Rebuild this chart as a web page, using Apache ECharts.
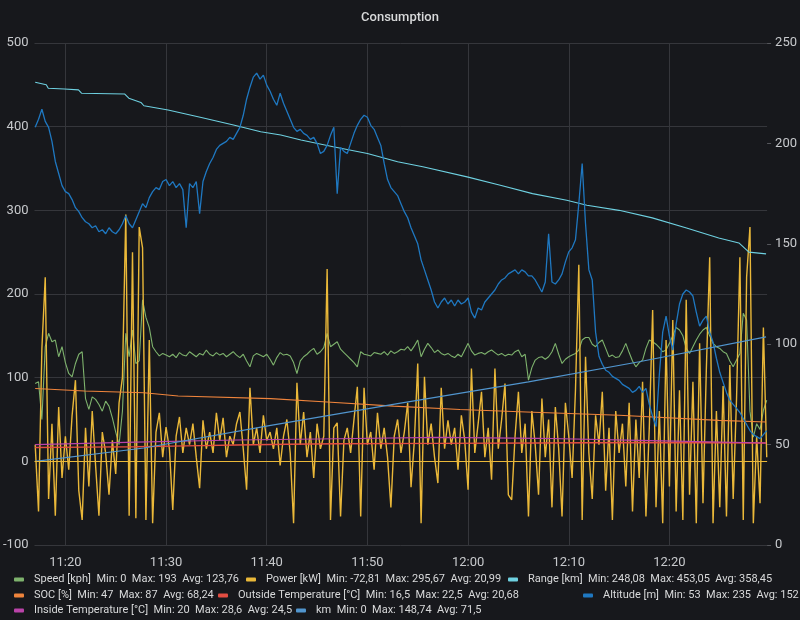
<!DOCTYPE html>
<html>
<head>
<meta charset="utf-8">
<script src="https://cdn.jsdelivr.net/npm/echarts@6/dist/echarts.min.js"></script>
<style>
	html, body { margin: 0; padding: 0; background: #17181c; }
	#chart { width: 800px; height: 620px; }
</style>
</head>
<body>
<div id="chart"></div>
<script>
// samples every 20 s from 11:17:00
var startTime = new Date(2021, 0, 1, 11, 17, 0).getTime();
var stepMs = 20000;

var speedData = [
	93, 95, 50, 137, 153, 143, 145, 125, 137, 118,
	105, 101, 117, 128, 131, 75, 62, 77, 74, 68,
	60, 72, 66, 52, 35, 20, 60, 153, 125, 157,
	117, 120, 193, 172, 160, 137, 131, 126, 129, 127,
	125, 128, 124, 130, 127, 126, 131, 128, 125, 129,
	127, 133, 128, 126, 130, 127, 129, 125, 128, 131,
	127, 124, 128, 120, 113, 126, 129, 127, 125, 128,
	122, 115, 124, 130, 127, 128, 126, 118, 105, 120,
	125, 128, 132, 135, 128, 131, 136, 153, 137, 140,
	143, 134, 130, 126, 122, 118, 113, 131, 128, 127,
	126, 130, 129, 128, 131, 127, 132, 129, 131, 134,
	133, 137, 132, 138, 145, 125, 134, 141, 136, 130,
	133, 129, 127, 129, 126, 124, 128, 125, 133, 141,
	132, 127, 129, 130, 128, 131, 133, 130, 127, 129,
	126, 128, 127, 131, 133, 125, 128, 97, 112, 121,
	124, 125, 122, 125, 131, 141, 128, 117, 122, 125,
	127, 129, 133, 145, 148, 148, 140, 137, 142, 145,
	135, 125, 127, 124, 125, 132, 141, 130, 120, 113,
	118, 121, 135, 145, 143, 140, 136, 131, 133, 141,
	150, 160, 157, 150, 135, 129, 137, 145, 152, 157,
	160, 150, 141, 137, 135, 131, 129, 120, 113, 121,
	129, 177, 169, 60, 29, 45, 38, 61, 73
];

var powerData = [
	20, -60, 135, 220, -45, 45, -65, 65, -20, 30,
	-10, 55, 97, -35, -70, 40, -30, 60, -5, -65,
	35, 10, -40, 25, -15, 70, 100, 295, -65, 250,
	-68, 280, 255, -70, 145, -74, 35, 58, 5, 41,
	15, -58, 30, 53, 10, 40, 20, 45, 5, -32,
	49, 15, 35, 10, 58, 25, 52, 5, 30, 20,
	45, 59, 15, -34, 88, 20, 40, 10, 55, 25,
	35, 15, 40, -5, 30, 50, 10, -74, 94, 20,
	59, 5, 35, -20, 45, 15, 30, 230, -70, 40,
	46, -66, 25, 40, 10, 50, 89, -66, 88, 20,
	35, -10, 58, 15, 40, 5, -55, 30, 50, 10,
	35, 70, -31, 25, 117, -74, 101, 20, 45, 5,
	-26, 88, 15, 49, 20, 40, -10, 55, 25, -34,
	111, 10, 45, 83, 5, 40, -22, 111, 15, 50,
	93, -40, -46, 30, 83, 10, 45, -66, 60, 20,
	-40, 75, 5, 50, -55, 65, 15, -66, 70, 30,
	-20, 85, 235, -70, 125, 10, -45, 55, 20, 83,
	-35, 40, -70, 60, 10, 45, -30, 70, -60, 50,
	-20, 95, -66, 40, 181, -55, 60, -74, 145, -30,
	169, -60, 85, -70, 193, -40, 95, -74, 141, -50,
	110, 244, -74, 60, -55, 90, -66, 115, -45, 75,
	244, -70, 220, 280, -74, 30, -50, 160, 5
];

var altitudeData = [
	208, 212, 217, 211, 208, 201, 191, 185, 179, 176,
	175, 172, 168, 166, 163, 161, 160, 158, 159, 156,
	157, 155, 158, 156, 155, 157, 160, 164, 160, 158,
	162, 166, 170, 168, 173, 176, 178, 177, 181, 182,
	179, 181, 178, 180, 177, 158, 180, 178, 181, 165,
	181, 186, 190, 193, 197, 199, 200, 201, 203, 202,
	205, 208, 214, 222, 228, 233, 235, 232, 234, 229,
	226, 222, 219, 225, 220, 216, 212, 208, 206, 207,
	205, 204, 202, 203, 200, 195, 196, 199, 204, 208,
	175, 198, 196, 195, 200, 205, 209, 212, 214, 213,
	209, 207, 203, 199, 190, 182, 178, 176, 174, 170,
	166, 163, 158, 154, 150, 142, 137, 132, 127, 121,
	118, 121, 123, 120, 122, 119, 122, 120, 121, 123,
	116, 113, 118, 117, 121, 123, 125, 127, 130, 132,
	133, 135, 136, 137, 135, 137, 136, 134, 134, 132,
	129, 126, 131, 155, 131, 130, 132, 135, 141, 146,
	148, 152, 170, 190, 160, 137, 132, 106, 94, 90,
	87, 86, 84, 83, 82, 80, 79, 78, 76, 77,
	79, 76, 78, 70, 64, 59, 85, 106, 114, 104,
	97, 110, 120, 125, 127, 126, 124, 116, 109, 112,
	114, 106, 101, 93, 86, 81, 76, 72, 70, 68,
	66, 63, 60, 57, 55, 54, 53, 55, 57
];

// slow series: minutes after 11:17 and values
var rangeMinutes = [0, 1.1, 1.3, 2.9, 4.3, 4.6, 8.9, 9.3, 10.5, 10.8, 13.2, 16.5, 19.7, 22.4, 24.4, 26.4, 29.6, 33, 36, 38.5, 42.9, 46.2, 49.4, 52.8, 54.8, 58, 61.3, 64.7, 67.9, 69.9, 70.9, 72.6];
var rangeData = [453, 450, 446, 445, 444, 440, 439, 434, 429, 425, 420, 411, 402, 394, 390, 384, 376, 368, 358, 352, 340, 330, 320, 312, 306, 300, 291, 279, 267, 261, 250, 248];

var socMinutes = [0, 4.9, 10.8, 14.2, 23.4, 29, 35.6, 42.2, 48.8, 58, 67.9, 72.6];
var socData = [87, 84, 82, 78, 75, 71, 66, 62, 59, 55, 49, 47];

var outsideMinutes = [0, 5, 10, 15, 20, 25, 30, 40, 50, 60, 72.6];
var outsideData = [16.5, 17, 17.5, 18.5, 19.5, 20.5, 21, 21.5, 22, 22.5, 22];

var insideMinutes = [0, 10, 20, 30, 40, 50, 60, 72.6];
var insideData = [20, 23, 25.5, 27, 28.6, 27.5, 25, 22];

var kmMinutes = [0, 10.8, 23.4, 36, 49, 60, 72.6];
var kmData = [0, 16, 43, 69, 95, 119, 148.74];

var xTickLabels = ['11:20', '11:30', '11:40', '11:50', '12:00', '12:10', '12:20'];
var leftTicks = [-100, 0, 100, 200, 300, 400, 500];
var rightTicks = [0, 50, 100, 150, 200, 250];

var seriesNames = ['Speed [kph]', 'Power [kW]', 'Range [km]', 'SOC [%]', 'Outside Temperature [°C]', 'Altitude [m]', 'Inside Temperature [°C]', 'km'];
var seriesColors = ['#7EB26D', '#EAB839', '#6ED0E0', '#EF843C', '#E24D42', '#1F78C1', '#BA43A9', '#5195CE'];
var seriesStats = [
	'Min: 0  Max: 193  Avg: 123,76',
	'Min: -72,81  Max: 295,67  Avg: 20,99',
	'Min: 248,08  Max: 453,05  Avg: 358,45',
	'Min: 47  Max: 87  Avg: 68,24',
	'Min: 16,5  Max: 22,5  Avg: 20,68',
	'Min: 53  Max: 235  Avg: 152',
	'Min: 20  Max: 28,6  Avg: 24,5',
	'Min: 0  Max: 148,74  Avg: 71,5'
];

function bySample(values) {
	return values.map(function(v, i) { return [startTime + i * stepMs, v]; });
}
function byMinute(minutes, values) {
	return values.map(function(v, i) { return [startTime + minutes[i] * 60000, v]; });
}
function tickTime(label) {
	var p = label.split(':');
	return new Date(2021, 0, 1, +p[0], +p[1], 0).getTime();
}

var textColor = '#c7c9cc';
var gridColor = '#35363b';
var fontName = 'Roboto';

function lineSeries(idx, data, yIndex, width) {
	return {
		name: seriesNames[idx],
		type: 'line',
		yAxisIndex: yIndex,
		data: data,
		showSymbol: false,
		symbol: 'none',
		animation: false,
		lineStyle: { width: width || 1.1, color: seriesColors[idx] },
		itemStyle: { color: seriesColors[idx] }
	};
}

// one legend per entry, so each one sits where grafana put it
function legendItem(idx, left, top) {
	return {
		data: [seriesNames[idx]],
		left: left,
		top: top,
		icon: 'roundRect',
		itemWidth: 10,
		itemHeight: 4,
		padding: 0,
		selectedMode: false,
		textStyle: { color: '#d8d9da', fontSize: 11, fontFamily: fontName, padding: [0, 0, 0, 5] },
		formatter: function(name) {
			return name + '  ' + seriesStats[seriesNames.indexOf(name)];
		}
	};
}

var series = [
	lineSeries(0, bySample(speedData), 0),
	lineSeries(1, bySample(powerData), 0, 1.4),
	lineSeries(2, byMinute(rangeMinutes, rangeData), 0),
	lineSeries(3, byMinute(socMinutes, socData), 0),
	lineSeries(4, byMinute(outsideMinutes, outsideData), 0, 1.4),
	lineSeries(5, bySample(altitudeData), 1, 1.3),
	lineSeries(6, byMinute(insideMinutes, insideData), 0),
	lineSeries(7, byMinute(kmMinutes, kmData), 0)
];
// zero line drawn with the power series
series[1].markLine = {
	silent: true,
	symbol: 'none',
	label: { show: false },
	lineStyle: { color: '#EAB839', width: 1, type: 'solid' },
	data: [{ yAxis: 0 }]
};
// vertical 10 minute grid lines
series[0].markLine = {
	silent: true,
	symbol: 'none',
	label: { show: false },
	z: 1,
	lineStyle: { color: gridColor, width: 1, type: 'solid' },
	data: xTickLabels.map(function(l) { return { xAxis: tickTime(l) }; })
};

var chart = echarts.init(document.getElementById('chart'));
chart.setOption({
	backgroundColor: '#17181c',
	animation: false,
	title: {
		text: 'Consumption',
		left: 'center',
		top: 6,
		textStyle: { color: '#d8d9da', fontSize: 13, fontWeight: 500, fontFamily: 'Roboto' }
	},
	legend: [
		legendItem(0, 14, 574),
		legendItem(1, 246, 574),
		legendItem(2, 508, 574),
		legendItem(3, 14, 590),
		legendItem(4, 218, 590),
		legendItem(5, 583, 590),
		legendItem(6, 14, 605),
		legendItem(7, 296, 605)
	],
	grid: { left: 33, right: 32, top: 43, bottom: 75, containLabel: false },
	xAxis: {
		type: 'time',
		min: new Date(2021, 0, 1, 11, 16, 56).getTime(),
		max: new Date(2021, 0, 1, 12, 29, 42).getTime(),
		axisLine: { show: false },
		axisTick: { show: false },
		splitLine: { show: false },
		axisLabel: {
			color: textColor,
			fontSize: 13,
			fontFamily: fontName,
			margin: 11,
			showMinLabel: false,
			showMaxLabel: false,
			formatter: function(v) {
				var d = new Date(v);
				var s = ('0' + d.getHours()).slice(-2) + ':' + ('0' + d.getMinutes()).slice(-2);
				return xTickLabels.indexOf(s) >= 0 && d.getSeconds() === 0 ? s : '';
			}
		}
	},
	yAxis: [{
		type: 'value',
		min: leftTicks[0],
		max: leftTicks[leftTicks.length - 1],
		interval: 100,
		position: 'left',
		axisLine: { show: false },
		axisTick: { show: false },
		splitLine: { show: true, lineStyle: { color: gridColor, width: 1 } },
		axisLabel: { color: textColor, fontSize: 13, fontFamily: fontName, margin: 6 }
	}, {
		type: 'value',
		min: rightTicks[0],
		max: rightTicks[rightTicks.length - 1],
		interval: 50,
		position: 'right',
		axisLine: { show: false },
		axisTick: { show: true, length: 4, lineStyle: { color: '#55565b' } },
		splitLine: { show: false },
		axisLabel: { color: textColor, fontSize: 13, fontFamily: fontName, margin: 8 }
	}],
	series: series
});
</script>
</body>
</html>
